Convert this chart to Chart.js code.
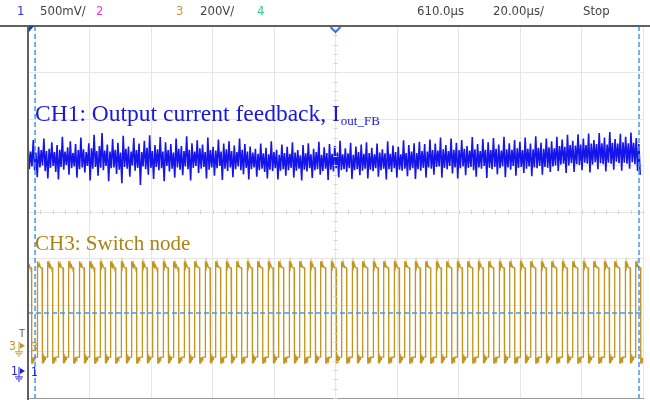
<!DOCTYPE html>
<html>
<head>
<meta charset="utf-8">
<script src="https://cdn.jsdelivr.net/npm/chart.js@4"></script>
<style>
html, body { margin: 0; padding: 0; background: #fff; }
#wrap { width: 650px; height: 400px; position: relative; }
</style>
</head>
<body>
<div id="wrap"><canvas id="scope" width="650" height="400"></canvas></div>
<script>
// screen: 10 divisions x 20 us, 8 vertical divisions
const timeRangeUs = [0, 200];
const divRange = [-4, 4];

// CH3 switch node, rising edges (us)
const ch3RiseUs = [
  -0.49, 2.93, 6.35, 9.76, 13.18, 16.59, 20.01, 23.42, 26.84, 30.25,
  33.67, 37.08, 40.50, 43.91, 47.33, 50.74, 54.16, 57.57, 60.99, 64.40,
  67.82, 71.23, 74.65, 78.06, 81.48, 84.89, 88.31, 91.72, 95.14, 98.55,
  101.97, 105.38, 108.80, 112.21, 115.63, 119.04, 122.46, 125.87, 129.29, 132.70,
  136.12, 139.53, 142.95, 146.36, 149.78, 153.19, 156.61, 160.02, 163.44, 166.85,
  170.27, 173.68, 177.10, 180.51, 183.93, 187.34, 190.76, 194.17, 197.59
];
const ch3HighUs = 1.65;
const ch3HighDiv = -1.2;
const ch3LowDiv = -3.12;
// ringing after each edge: [us after edge, div overshoot]
const ch3Ring = [
  [0, 0.14], [0.08, 0.0], [0.16, 0.13], [0.24, 0.01], [0.32, 0.12], [0.4, 0.02],
  [0.5, 0.1], [0.6, 0.02], [0.7, 0.08], [0.8, 0.02], [0.95, 0.05], [1.1, 0.01], [1.3, 0]
];

// CH1 output current feedback, one sample every ch1StepUs
const ch1StepUs = 0.43;
const ch1Div = [
  1.48,0.92, 1.30,0.98, 1.55,0.90, 1.28,0.75, 1.40,0.96, 1.33,1.00, 1.58,0.88, 1.31,0.72,
  1.36,0.95, 1.50,0.99, 1.29,0.86, 1.44,0.70, 1.34,0.97, 1.62,0.91, 1.30,1.01, 1.39,0.80,
  1.52,0.94, 1.27,0.98, 1.46,0.74, 1.33,0.92, 1.60,0.96, 1.35,0.85, 1.29,0.99, 1.48,0.68,
  1.37,0.93, 1.66,0.97, 1.31,0.78, 1.42,0.95, 1.70,0.90, 1.32,0.99, 1.45,0.66, 1.30,0.94,
  1.57,0.96, 1.34,0.82, 1.49,0.91, 1.28,0.62, 1.64,0.97, 1.36,0.93, 1.41,0.76, 1.30,1.00,
  1.59,0.89, 1.33,0.95, 1.47,0.58, 1.29,0.98, 1.53,0.92, 1.38,0.80, 1.65,0.95, 1.31,0.71,
  1.44,0.97, 1.35,0.90, 1.61,0.94, 1.30,0.66, 1.50,0.99, 1.33,0.87, 1.46,0.93, 1.28,0.74,
  1.58,0.96, 1.36,0.91, 1.42,0.79, 1.31,0.98, 1.63,0.92, 1.34,0.68, 1.48,0.95, 1.30,0.99,
  1.54,0.84, 1.37,0.93, 1.45,0.97, 1.29,0.72, 1.60,0.91, 1.33,0.96, 1.40,0.78, 1.32,0.94,
  1.56,0.99, 1.30,0.69, 1.47,0.93, 1.35,0.88, 1.52,0.96, 1.31,0.75, 1.43,0.92, 1.29,0.98,
  1.58,0.90, 1.34,0.81, 1.46,0.95, 1.30,0.70, 1.41,0.92, 1.28,0.96, 1.36,0.76, 1.25,0.90,
  1.47,0.93, 1.26,0.86, 1.38,0.72, 1.24,0.91, 1.52,0.88, 1.29,0.94, 1.34,0.70, 1.23,0.89,
  1.45,0.92, 1.27,0.78, 1.40,0.90, 1.25,0.95, 1.50,0.74, 1.28,0.89, 1.33,0.93, 1.22,0.68,
  1.44,0.91, 1.26,0.87, 1.48,0.94, 1.24,0.73, 1.36,0.90, 1.29,0.92, 1.51,0.80, 1.23,0.88,
  1.39,0.93, 1.27,0.69, 1.46,0.91, 1.25,0.87, 1.42,0.94, 1.28,0.75, 1.53,0.90, 1.24,0.92,
  1.37,0.86, 1.26,0.94, 1.49,0.71, 1.23,0.90, 1.41,0.92, 1.29,0.79, 1.45,0.89, 1.25,0.93,
  1.50,0.72, 1.27,0.91, 1.38,0.88, 1.24,0.94, 1.47,0.76, 1.28,0.90, 1.35,0.93, 1.26,0.70,
  1.52,0.92, 1.25,0.86, 1.43,0.94, 1.29,0.74, 1.40,0.91, 1.24,0.89, 1.54,0.93, 1.27,0.77,
  1.44,0.90, 1.30,0.94, 1.48,0.71, 1.27,0.92, 1.51,0.89, 1.31,0.95, 1.46,0.74, 1.30,0.96,
  1.56,0.93, 1.33,0.80, 1.47,0.97, 1.32,0.98, 1.60,0.74, 1.35,0.95, 1.44,0.92, 1.31,0.99,
  1.58,0.83, 1.34,0.96, 1.49,0.72, 1.33,0.94, 1.55,0.98, 1.36,0.79, 1.42,0.95, 1.32,0.97,
  1.61,0.90, 1.35,0.76, 1.46,0.96, 1.31,0.93, 1.57,0.99, 1.34,0.73, 1.50,0.95, 1.33,0.92,
  1.59,0.97, 1.36,0.81, 1.45,0.94, 1.32,0.98, 1.62,0.75, 1.35,0.96, 1.48,0.91, 1.34,0.99,
  1.55,0.78, 1.37,0.95, 1.51,0.97, 1.33,0.84, 1.60,0.93, 1.36,0.98, 1.47,0.77, 1.35,0.96,
  1.63,0.94, 1.38,0.99, 1.49,0.80, 1.36,0.97, 1.58,0.95, 1.39,0.86, 1.52,0.98, 1.37,1.00,
  1.62,0.88, 1.42,1.02, 1.56,1.04, 1.40,0.84, 1.66,1.00, 1.44,1.05, 1.53,0.86, 1.43,1.03,
  1.67,1.01, 1.45,0.90, 1.58,1.06, 1.44,1.04, 1.69,0.85, 1.47,1.02, 1.55,1.07, 1.46,0.92,
  1.70,1.05, 1.48,1.03, 1.60,0.87, 1.45,1.06, 1.72,1.04, 1.49,0.91, 1.57,1.08, 1.47,1.05,
  1.68,0.89, 1.50,1.06, 1.62,1.04, 1.48,0.93, 1.71,1.07, 1.49,1.03, 1.59,0.88, 1.46,0.80
];

const trigLevelDiv = -2.17;
const cursorUs = [2.3, 198.7];
const ch3GroundDiv = -2.9;
const ch1GroundDiv = -3.44;

const header = [
  { text: "1", x: 17, color: "#3030d0" },
  { text: "500mV/", x: 40, color: "#444" },
  { text: "2", x: 96, color: "#e040e0" },
  { text: "3", x: 176, color: "#c09a30" },
  { text: "200V/", x: 200, color: "#444" },
  { text: "4", x: 257, color: "#30d080" },
  { text: "610.0µs", x: 417, color: "#444" },
  { text: "20.00µs/", x: 493, color: "#444" },
  { text: "Stop", x: 583, color: "#444" }
];

const blue = "rgb(20,20,235)";
const gold = "rgb(192,150,32)";
const cursorBlue = "rgb(70,150,230)";

let ch1Points = ch1Div.map((v, i) => ({ x: i * ch1StepUs, y: v }));

let ch3Points = [];
ch3RiseUs.forEach(r => {
  ch3Points.push({ x: r, y: ch3LowDiv });
  ch3Ring.forEach(([dt, dv]) => ch3Points.push({ x: r + dt, y: ch3HighDiv + dv }));
  let f = r + ch3HighUs;
  ch3Points.push({ x: f, y: ch3HighDiv });
  ch3Ring.forEach(([dt, dv]) => ch3Points.push({ x: f + dt, y: ch3LowDiv - dv }));
});

function groundMark(ctx, x, y, color) {
  ctx.strokeStyle = color;
  ctx.fillStyle = color;
  ctx.lineWidth = 1;
  ctx.beginPath();
  ctx.moveTo(x, y - 5); ctx.lineTo(x, y + 5);
  ctx.moveTo(x - 4, y + 5); ctx.lineTo(x + 4, y + 5);
  ctx.moveTo(x - 3, y + 7); ctx.lineTo(x + 3, y + 7);
  ctx.moveTo(x - 1, y + 9); ctx.lineTo(x + 1, y + 9);
  ctx.stroke();
  ctx.beginPath();
  ctx.moveTo(x + 1, y - 4); ctx.lineTo(x + 6, y - 1); ctx.lineTo(x + 1, y + 2);
  ctx.closePath();
  ctx.fill();
}

const scopeDecor = {
  id: "scopeDecor",
  afterDatasetsDraw(chart) {
    const { ctx, chartArea: a, scales: { x, y } } = chart;
    ctx.save();

    // minor ticks on the centre lines
    ctx.strokeStyle = "#d4d4d4";
    ctx.lineWidth = 1;
    ctx.beginPath();
    let cx = x.getPixelForValue(100), cy = y.getPixelForValue(0);
    for (let t = 0; t <= 200; t += 4) {
      let px = Math.round(x.getPixelForValue(t)) + 0.5;
      ctx.moveTo(px, cy - 2); ctx.lineTo(px, cy + 2);
    }
    for (let v = -4; v <= 4; v += 0.2) {
      let py = Math.round(y.getPixelForValue(v)) + 0.5;
      ctx.moveTo(cx - 2, py); ctx.lineTo(cx + 2, py);
    }
    ctx.stroke();

    // cursors and trigger level
    ctx.strokeStyle = cursorBlue;
    ctx.lineWidth = 1.5;
    ctx.setLineDash([5, 3]);
    ctx.beginPath();
    cursorUs.forEach(t => {
      let px = x.getPixelForValue(t);
      ctx.moveTo(px, a.top); ctx.lineTo(px, a.bottom);
    });
    let ty = y.getPixelForValue(trigLevelDiv);
    ctx.moveTo(a.left, ty); ctx.lineTo(a.right, ty);
    ctx.stroke();
    ctx.setLineDash([]);

    // frame top and left
    ctx.strokeStyle = "#606060";
    ctx.lineWidth = 2;
    ctx.beginPath();
    ctx.moveTo(0, a.top); ctx.lineTo(650, a.top);
    ctx.moveTo(a.left, a.top); ctx.lineTo(a.left, 400);
    ctx.stroke();

    // trigger position chevron
    ctx.strokeStyle = "rgb(50,120,220)";
    ctx.lineWidth = 2;
    ctx.beginPath();
    ctx.moveTo(cx - 5, a.top + 1); ctx.lineTo(cx, a.top + 6); ctx.lineTo(cx + 5, a.top + 1);
    ctx.stroke();

    // left flag
    ctx.fillStyle = "rgb(20,60,190)";
    ctx.beginPath();
    ctx.moveTo(a.left + 1, a.top); ctx.lineTo(a.left + 6, a.top);
    ctx.lineTo(a.left + 1, a.top + 6); ctx.closePath();
    ctx.fill();

    // header
    ctx.font = "13px 'Liberation Sans Narrow', 'DejaVu Sans Condensed', sans-serif";
    ctx.textBaseline = "alphabetic";
    header.forEach(h => {
      ctx.fillStyle = h.color;
      ctx.fillText(h.text, h.x, 15);
    });

    // channel labels
    let lx = x.getPixelForValue(cursorUs[0]);
    ctx.font = "23.5px 'Liberation Serif', 'DejaVu Serif', serif";
    ctx.fillStyle = "rgb(25,25,215)";
    let l1 = "CH1: Output current feedback, I";
    ctx.fillText(l1, lx, 121);
    let w1 = ctx.measureText(l1).width;
    ctx.font = "13px 'Liberation Serif', 'DejaVu Serif', serif";
    ctx.fillText("out_FB", lx + w1 + 1, 125);
    ctx.font = "21px 'Liberation Serif', 'DejaVu Serif', serif";
    ctx.fillStyle = "rgb(170,130,20)";
    ctx.fillText("CH3: Switch node", lx, 250);

    // ground markers
    let g3 = y.getPixelForValue(ch3GroundDiv);
    let g1 = y.getPixelForValue(ch1GroundDiv);
    ctx.textBaseline = "middle";
    ctx.fillStyle = "#555";
    ctx.font = "10px 'Liberation Sans', sans-serif";
    ctx.fillText("T", 19, g3 - 13);
    ctx.font = "12px 'Liberation Sans Narrow', 'DejaVu Sans Condensed', sans-serif";
    ctx.fillStyle = "rgb(190,150,40)";
    ctx.fillText("3", 9, g3);
    ctx.fillText("3", a.left + 3, g3 + 1);
    groundMark(ctx, 19, g3, "rgb(190,150,40)");
    ctx.fillStyle = "rgb(30,30,220)";
    ctx.fillText("1", 11, g1);
    ctx.fillText("1", a.left + 3, g1 + 1);
    groundMark(ctx, 19, g1, "rgb(30,30,220)");

    ctx.restore();
  }
};

new Chart(document.getElementById("scope"), {
  type: "line",
  data: {
    datasets: [
      { label: "CH3", data: ch3Points, borderColor: gold, borderWidth: 1.3, pointRadius: 0, tension: 0 },
      { label: "CH1", data: ch1Points, borderColor: blue, borderWidth: 1.6, pointRadius: 0, tension: 0 }
    ]
  },
  options: {
    responsive: false,
    animation: false,
    layout: { padding: { left: 28, top: 26, right: 7, bottom: 2 } },
    plugins: { legend: { display: false }, tooltip: { enabled: false } },
    scales: {
      x: {
        type: "linear", min: timeRangeUs[0], max: timeRangeUs[1],
        ticks: { display: false, stepSize: 20 },
        grid: { color: "#e6e6e6", drawTicks: false },
        border: { color: "#9a9a9a", width: 1 }
      },
      y: {
        min: divRange[0], max: divRange[1],
        ticks: { display: false, stepSize: 1 },
        grid: { color: "#e6e6e6", drawTicks: false },
        border: { color: "#606060", width: 2 }
      }
    }
  },
  plugins: [scopeDecor]
});
</script>
</body>
</html>
